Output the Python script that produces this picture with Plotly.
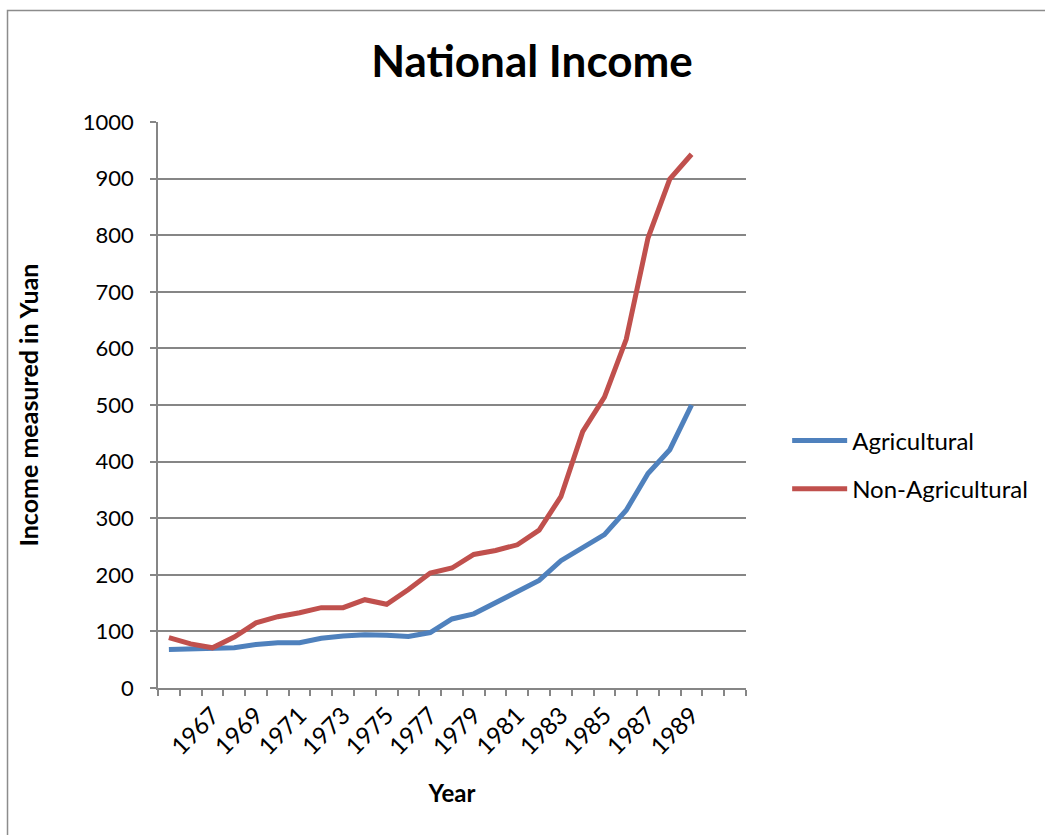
import plotly.graph_objects as go

years = list(range(1965, 1990))
agricultural = [68, 69, 71, 71, 77, 80, 80, 88, 92, 94, 93, 91, 98, 122, 131,
                150, 171, 190, 225, 248, 271, 314, 379, 421, 500]
non_agricultural = [89, 78, 71, 90, 115, 126, 133, 142, 142, 156, 148, 174, 203,
                    212, 236, 243, 253, 279, 338, 453, 514, 616, 795, 899, 943]
tick_years = list(range(1967, 1990, 2))
y_ticks = list(range(0, 1001, 100))

FONT = "Lato"
GRID = "#868686"

fig = go.Figure()
fig.add_trace(go.Scatter(x=years, y=agricultural, mode="lines", name="Agricultural",
                         line=dict(color="#4F81BD", width=5), legendgroup="a"))
fig.add_trace(go.Scatter(x=years, y=non_agricultural, mode="lines", name="Non-Agricultural",
                         line=dict(color="#C0504D", width=5), legendgroup="b"))

W, H = 1045, 835
L, R, T, B = 158, 748, 122, 688

fig.update_layout(
    width=W, height=H,
    margin=dict(l=L, r=W - R, t=T, b=H - B),
    paper_bgcolor="white", plot_bgcolor="white",
    font=dict(family=FONT, size=22, color="black"),
    title=dict(text="<b>National Income</b>", x=532 / W, xref="container", xanchor="center",
               y=1 - 62 / H, yref="container", yanchor="middle",
               font=dict(family=FONT, size=44, color="black")),
    legend=dict(x=1.07, y=(688 - 465) / 566, xanchor="left", yanchor="middle",
                font=dict(family=FONT, size=24), tracegroupgap=14, itemwidth=55,
                bgcolor="rgba(0,0,0,0)"),
    showlegend=True,
)

fig.update_xaxes(
    range=[1964.5, 1991.5], tickmode="array", tickvals=tick_years,
    ticktext=[str(y) for y in tick_years], tickangle=-45, ticks="",
    tickfont=dict(family=FONT, size=24), ticklabelstandoff=2,
    showgrid=False, showline=True, linecolor=GRID, linewidth=1.5, zeroline=False,
    minor=dict(tick0=1964.5, dtick=1, ticks="outside", ticklen=6, tickcolor=GRID,
               tickwidth=1.5, showgrid=False),
    title=dict(text="<b>Year</b>", font=dict(family=FONT, size=24), standoff=26),
)
fig.update_yaxes(
    range=[0, 1000], tickmode="array", tickvals=y_ticks, ticks="outside", ticklen=6,
    tickcolor=GRID, tickwidth=1.5, tickfont=dict(family=FONT, size=22),
    ticklabelstandoff=12,
    showgrid=True, gridcolor=GRID, gridwidth=1.5, showline=True, linecolor=GRID,
    linewidth=1.5, zeroline=False,
    title=dict(text="<b>Income measured in Yuan</b>", font=dict(family=FONT, size=25), standoff=37),
)

# outer chart frame
fig.add_shape(type="rect", xref="paper", yref="paper",
              x0=(7 - L) / (R - L), x1=(1060 - L) / (R - L),
              y0=(B - 850) / (B - T), y1=(B - 10.5) / (B - T),
              line=dict(color="#8C8C8C", width=1.5), fillcolor="rgba(0,0,0,0)", layer="below")

fig.write_html("out.html")
